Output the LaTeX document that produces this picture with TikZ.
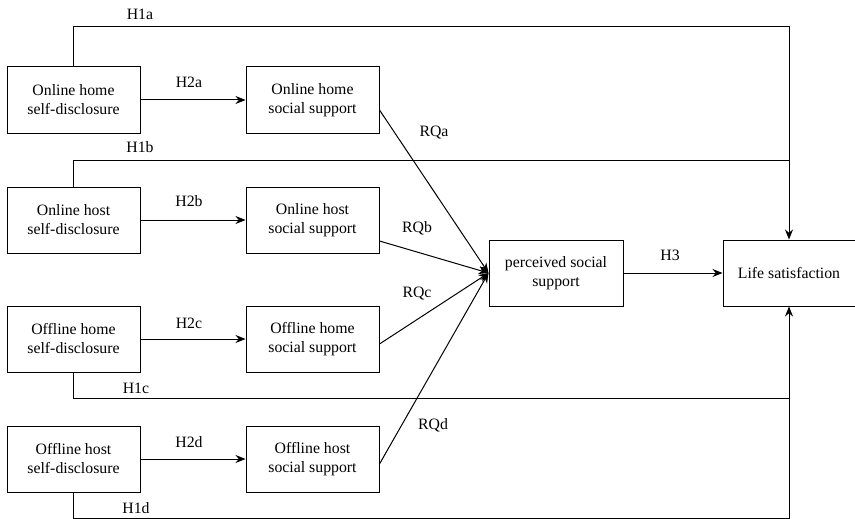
\documentclass[tikz,border=0pt]{standalone}
\usepackage{fontspec}
\setmainfont{Liberation Serif}
\usetikzlibrary{arrows.meta}
\begin{document}
\begin{tikzpicture}[x=1pt,y=-1pt,
  box/.style={draw,line width=1pt,minimum width=133pt,minimum height=66pt,align=center,font=\fontsize{15.8}{19}\selectfont,inner sep=0pt},
  lab/.style={font=\fontsize{15.8}{18}\selectfont,inner sep=0pt},
  conn/.style={line width=1pt},
  arr/.style={line width=1pt,-{Stealth[length=10pt,width=8pt]}}]
\useasboundingbox (0,0) rectangle (855,519);
% left boxes
\node[box] (a1) at (73.5,100) {Online home\\self-disclosure};
\node[box] (b1) at (73.5,220) {Online host\\self-disclosure};
\node[box] (c1) at (73.5,339) {Offline home\\self-disclosure};
\node[box] (d1) at (73.5,459) {Offline host\\self-disclosure};
% middle boxes
\node[box] (a2) at (312.5,100) {Online home\\social support};
\node[box] (b2) at (312.5,220) {Online host\\social support};
\node[box] (c2) at (312.5,339) {Offline home\\social support};
\node[box] (d2) at (312.5,459) {Offline host\\social support};
% right boxes
\node[box,minimum width=134pt] (p) at (556,273) {perceived social\\support};
\node[box,minimum width=132pt] (l) at (789,273) {Life satisfaction};
% corners
\coordinate (ta) at (73,27);
\coordinate (tb) at (73,160);
\coordinate (tc) at (73,398);
\coordinate (td) at (73,518);
\coordinate (ra) at (789,27);
\coordinate (rb) at (789,160);
\coordinate (rc) at (789,398);
\coordinate (rd) at (789,518);
% H1 paths
\draw[arr] (a1.north -| ta) -- (ta) -- (ra) -- (l.north);
\draw[conn] (b1.north -| tb) -- (tb) -- (rb);
\draw[arr] (c1.south -| tc) -- (tc) -- (rc) -- (l.south);
\draw[conn] (d1.south -| td) -- (td) -- (rd) -- (rc);
% H2 arrows
\draw[arr] (a1) -- (a2);
\draw[arr] (b1) -- (b2);
\draw[arr] (c1) -- (c2);
\draw[arr] (d1) -- (d2);
% RQ arrows
\coordinate (pin) at (p.west);
\draw[arr] (a2.east |- 0,110) -- (pin);
\draw[arr] (b2.east |- 0,241) -- (pin);
\draw[arr] (c2.east |- 0,344) -- (pin);
\draw[arr] (d2.east |- 0,464) -- (pin);
\draw[arr] (p) -- (l);
% labels
\node[lab] at (140,14) {H1a};
\node[lab] at (140,147) {H1b};
\node[lab] at (136,388) {H1c};
\node[lab] at (136,508) {H1d};
\node[lab] at (189,82) {H2a};
\node[lab] at (189,201) {H2b};
\node[lab] at (189,323) {H2c};
\node[lab] at (189,442) {H2d};
\node[lab] at (434,133) {RQa};
\node[lab] at (417,228) {RQb};
\node[lab] at (417,294) {RQc};
\node[lab] at (433,425) {RQd};
\node[lab] at (670,255) {H3};
\end{tikzpicture}
\end{document}
